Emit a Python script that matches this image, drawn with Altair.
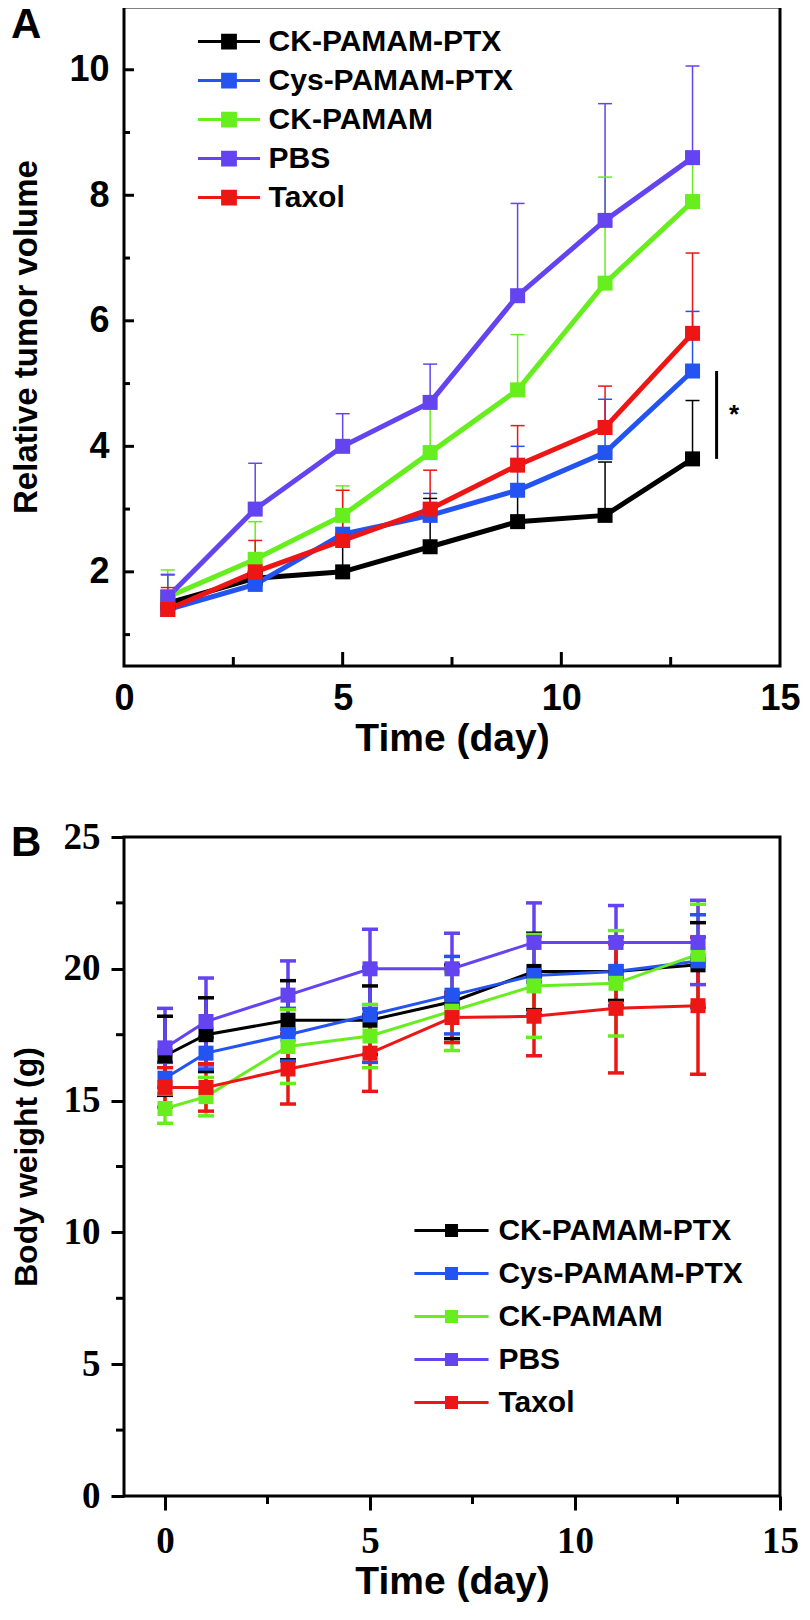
import altair as alt
import pandas as pd

SANS = "Liberation Sans, Arial, Helvetica, sans-serif"
SERIF = "Liberation Serif, Times New Roman, serif"

series = ["CK-PAMAM-PTX", "Cys-PAMAM-PTX", "CK-PAMAM", "PBS", "Taxol"]
colors = ["#000000", "#2353f0", "#66ee1e", "#6443f0", "#ee1515"]

# ---------------- Panel A: relative tumor volume ----------------
days_a = [1, 3, 5, 7, 9, 11, 13]
vol_ck_ptx = [1.5, 1.9, 2.0, 2.4, 2.8, 2.9, 3.8]
vol_cys_ptx = [1.4, 1.8, 2.6, 2.9, 3.3, 3.9, 5.2]
vol_ck = [1.6, 2.2, 2.9, 3.9, 4.9, 6.6, 7.9]
vol_pbs = [1.6, 3.0, 4.0, 4.7, 6.4, 7.6, 8.6]
vol_taxol = [1.4, 2.0, 2.5, 3.0, 3.7, 4.3, 5.8]

err_ck_ptx = [0.2, 0.15, 0.55, 0.77, 0.5, 0.85, 0.93]
err_cys_ptx = [0.56, 0.25, 0.4, 0.35, 0.7, 0.85, 0.95]
err_ck = [0.43, 0.6, 0.47, 0.75, 0.88, 1.69, 0.6]
err_pbs = [0.35, 0.73, 0.52, 0.61, 1.47, 1.86, 1.46]
err_taxol = [0.35, 0.5, 0.8, 0.62, 0.63, 0.66, 1.28]

# ---------------- Panel B: body weight ----------------
days_b = [0, 1, 3, 5, 7, 9, 11, 13]
bw_ck_ptx = [16.7, 17.5, 18.05, 18.05, 18.75, 19.9, 19.9, 20.15]
bw_cys_ptx = [15.85, 16.8, 17.5, 18.25, 19.0, 19.75, 19.9, 20.3]
bw_ck = [14.7, 15.15, 17.05, 17.45, 18.4, 19.35, 19.45, 20.55]
bw_pbs = [17.0, 18.0, 19.0, 20.0, 20.0, 21.0, 21.0, 21.0]
bw_taxol = [15.5, 15.5, 16.2, 16.8, 18.15, 18.2, 18.5, 18.6]

bw_err_ck_ptx = [1.5, 1.4, 1.5, 1.3, 1.4, 1.45, 1.1, 1.6]
bw_err_cys_ptx = [0.6, 0.6, 1.0, 1.8, 1.47, 1.5, 1.3, 1.75]
bw_err_ck = [0.56, 0.73, 1.4, 1.2, 1.5, 1.95, 2.0, 1.9]
bw_err_pbs = [1.5, 1.65, 1.3, 1.5, 1.35, 1.5, 1.4, 1.6]
bw_err_taxol = [0.75, 0.9, 1.33, 1.45, 0.95, 1.5, 2.45, 2.6]

# axis tick values
a_xlabels = [0, 5, 10, 15]
a_xmajor = [5, 10]
a_xminor = [2.5, 7.5, 12.5]
a_ymajor = [2, 4, 6, 8, 10]
a_yminor = [1, 3, 5, 7, 9]
b_xlabels = [0, 5, 10, 15]
b_ylabels = [0, 5, 10, 15, 20, 25]
b_xminor = [2.5, 7.5, 12.5]
b_yminor = [2.5, 7.5, 12.5, 17.5, 22.5]

vols = [vol_ck_ptx, vol_cys_ptx, vol_ck, vol_pbs, vol_taxol]
errs = [err_ck_ptx, err_cys_ptx, err_ck, err_pbs, err_taxol]
bws = [bw_ck_ptx, bw_cys_ptx, bw_ck, bw_pbs, bw_taxol]
bwerrs = [bw_err_ck_ptx, bw_err_cys_ptx, bw_err_ck, bw_err_pbs, bw_err_taxol]

rows_a = []
for s, v, e in zip(series, vols, errs):
    for d, vi, ei in zip(days_a, v, e):
        rows_a.append({"series": s, "day": d, "value": vi, "top": vi + ei})
df_a = pd.DataFrame(rows_a)

rows_b = []
for s, v, e in zip(series, bws, bwerrs):
    for d, vi, ei in zip(days_b, v, e):
        rows_b.append({"series": s, "day": d, "value": vi, "lo": vi - ei, "hi": vi + ei})
df_b = pd.DataFrame(rows_b)

W = 656
H = 659

PATH_A = "M-1.6,0H1.6M-0.33,-0.33H0.33V0.33H-0.33Z"
PATH_B = "M-1.7,0H1.7M-0.23,-0.23H0.23V0.23H-0.23Z"


def legend(path, size, x, y, off, rowpad):
    return alt.Legend(title=None, orient="none", legendX=x, legendY=y,
                      symbolType=path, symbolSize=size, symbolStrokeWidth=3,
                      labelFont=SANS, labelFontSize=30, labelFontWeight="bold",
                      labelColor="black", labelOffset=off, labelLimit=500,
                      rowPadding=rowpad, padding=0)


# ---------------- Panel A chart ----------------
xsA = alt.Scale(domain=[0, 15], nice=False, zero=False)
ysA = alt.Scale(domain=[0.5, 11], nice=False, zero=False)
colA = alt.Scale(domain=series, range=colors)
legA = legend(PATH_A, 1505, 84, 13.6, 18.6, 3)

axXA = alt.Axis(values=a_xlabels, title="Time (day)", ticks=False, tickSize=0,
                domain=False, grid=False, labelPadding=15, titlePadding=3,
                labelFont=SANS, labelFontSize=36, labelFontWeight="bold", labelColor="black",
                titleFont=SANS, titleFontSize=39, titleFontWeight="bold", titleColor="black",
                labelFlush=False)
axYA = alt.Axis(values=a_ymajor, title="Relative tumor volume", ticks=False, tickSize=0,
                domain=False, grid=False, labelPadding=15, titlePadding=25,
                labelFont=SANS, labelFontSize=36, labelFontWeight="bold", labelColor="black",
                titleFont=SANS, titleFontSize=33, titleFontWeight="bold", titleColor="black",
                labelFlush=False)


def XA(f):
    return alt.X(f, scale=xsA, axis=axXA)


def YA(f):
    return alt.Y(f, scale=ysA, axis=axYA)


baseA = alt.Chart(df_a)
errA = baseA.mark_rule(strokeWidth=1.5).encode(
    x=XA("day:Q"), y=YA("value:Q"), y2="top:Q",
    stroke=alt.Stroke("series:N", scale=colA, legend=legA),
)
capA = baseA.mark_rule(strokeWidth=1.5, xOffset=-7, x2Offset=7).encode(
    x=XA("day:Q"), x2="day:Q", y=YA("top:Q"),
    stroke=alt.Stroke("series:N", scale=colA, legend=legA),
)
lineA = baseA.mark_line(strokeWidth=5).encode(
    x=XA("day:Q"), y=YA("value:Q"),
    stroke=alt.Stroke("series:N", scale=colA, legend=legA),
)
ptA = baseA.mark_point(shape="square", filled=True, size=225, opacity=1).encode(
    x=XA("day:Q"), y=YA("value:Q"),
    fill=alt.Fill("series:N", scale=colA, legend=legA),
)
sig_df = pd.DataFrame({"x": [13.55], "y1": [vol_ck_ptx[-1]], "y2": [vol_cys_ptx[-1]]})
sigA = alt.Chart(sig_df).mark_rule(strokeWidth=3, color="black").encode(
    x=XA("x:Q"), y=YA("y1:Q"), y2="y2:Q",
)
star_df = pd.DataFrame({"x": [13.95], "y": [4.5], "t": ["*"]})
starA = alt.Chart(star_df).mark_text(fontSize=26, fontWeight="bold", font=SANS, color="black").encode(
    x=XA("x:Q"), y=YA("y:Q"), text="t:N",
)
letterA = alt.Chart(pd.DataFrame({"t": ["A"]})).mark_text(
    fontSize=42, fontWeight="bold", font=SANS, color="black", align="left", baseline="top"
).encode(x=alt.value(-113), y=alt.value(-2), text="t:N")

ytA_major = alt.Chart(pd.DataFrame({"v": a_ymajor})).mark_rule(strokeWidth=3, color="black").encode(
    y=YA("v:Q"), x=alt.value(0), x2=alt.value(10))
ytA_minor = alt.Chart(pd.DataFrame({"v": a_yminor})).mark_rule(strokeWidth=3, color="black").encode(
    y=YA("v:Q"), x=alt.value(0), x2=alt.value(6))
xtA_major = alt.Chart(pd.DataFrame({"v": a_xmajor})).mark_rule(strokeWidth=3, color="black").encode(
    x=XA("v:Q"), y=alt.value(H), y2=alt.value(H - 14))
xtA_minor = alt.Chart(pd.DataFrame({"v": a_xminor})).mark_rule(strokeWidth=3, color="black").encode(
    x=XA("v:Q"), y=alt.value(H), y2=alt.value(H - 9))

chartA = alt.layer(errA, capA, lineA, ptA, sigA, starA, letterA,
                   ytA_major, ytA_minor, xtA_major, xtA_minor).properties(width=W, height=H)

# ---------------- Panel B chart ----------------
xsB = alt.Scale(domain=[-1, 15], nice=False, zero=False)
ysB = alt.Scale(domain=[0, 25], nice=False, zero=False)
colB = alt.Scale(domain=series, range=colors)
legB = legend(PATH_B, 1901, 304, 370, 23.4, 4)

axXB = alt.Axis(values=b_xlabels, title="Time (day)", ticks=True, tickSize=14, tickWidth=3,
                tickColor="black", domain=False, grid=False, labelPadding=13, titlePadding=3,
                labelFont=SERIF, labelFontSize=37, labelFontWeight="bold", labelColor="black",
                titleFont=SANS, titleFontSize=39, titleFontWeight="bold", titleColor="black",
                labelFlush=False)
axYB = alt.Axis(values=b_ylabels, title="Body weight (g)", ticks=True, tickSize=13,
                tickWidth=3, tickColor="black", domain=False, grid=False, labelPadding=11,
                titlePadding=20, labelFont=SERIF, labelFontSize=37, labelFontWeight="bold",
                labelColor="black", titleFont=SANS, titleFontSize=32, titleFontWeight="bold",
                titleColor="black", labelFlush=False)


def XB(f):
    return alt.X(f, scale=xsB, axis=axXB)


def YB(f):
    return alt.Y(f, scale=ysB, axis=axYB)


baseB = alt.Chart(df_b)
errB = baseB.mark_rule(strokeWidth=3.5).encode(
    x=XB("day:Q"), y=YB("lo:Q"), y2="hi:Q",
    stroke=alt.Stroke("series:N", scale=colB, legend=legB),
)
capBlo = baseB.mark_rule(strokeWidth=3.5, xOffset=-8, x2Offset=8).encode(
    x=XB("day:Q"), x2="day:Q", y=YB("lo:Q"),
    stroke=alt.Stroke("series:N", scale=colB, legend=legB),
)
capBhi = baseB.mark_rule(strokeWidth=3.5, xOffset=-8, x2Offset=8).encode(
    x=XB("day:Q"), x2="day:Q", y=YB("hi:Q"),
    stroke=alt.Stroke("series:N", scale=colB, legend=legB),
)
lineB = baseB.mark_line(strokeWidth=3).encode(
    x=XB("day:Q"), y=YB("value:Q"),
    stroke=alt.Stroke("series:N", scale=colB, legend=legB),
)
ptB = baseB.mark_point(shape="square", filled=True, size=225, opacity=1).encode(
    x=XB("day:Q"), y=YB("value:Q"),
    fill=alt.Fill("series:N", scale=colB, legend=legB),
)
letterB = alt.Chart(pd.DataFrame({"t": ["B"]})).mark_text(
    fontSize=42, fontWeight="bold", font=SANS, color="black", align="left", baseline="top"
).encode(x=alt.value(-113), y=alt.value(-14), text="t:N")
ytB_minor = alt.Chart(pd.DataFrame({"v": b_yminor})).mark_rule(strokeWidth=3, color="black").encode(
    y=YB("v:Q"), x=alt.value(0), x2=alt.value(-8))
xtB_minor = alt.Chart(pd.DataFrame({"v": b_xminor})).mark_rule(strokeWidth=3, color="black").encode(
    x=XB("v:Q"), y=alt.value(H), y2=alt.value(H + 8))

chartB = alt.layer(errB, capBlo, capBhi, lineB, ptB, letterB, ytB_minor, xtB_minor).properties(
    width=W, height=H)

chart = alt.concat(chartA, chartB, columns=1, spacing=171, bounds="flush", align="none").resolve_scale(
    x="independent", y="independent", stroke="independent", fill="independent"
).resolve_legend(stroke="independent", fill="independent").properties(
    padding={"left": 0, "top": -6, "right": 0, "bottom": 0}
).configure_view(stroke="black", strokeWidth=3)

chart.save("out.html", embed_options={"renderer": "svg", "actions": False})
